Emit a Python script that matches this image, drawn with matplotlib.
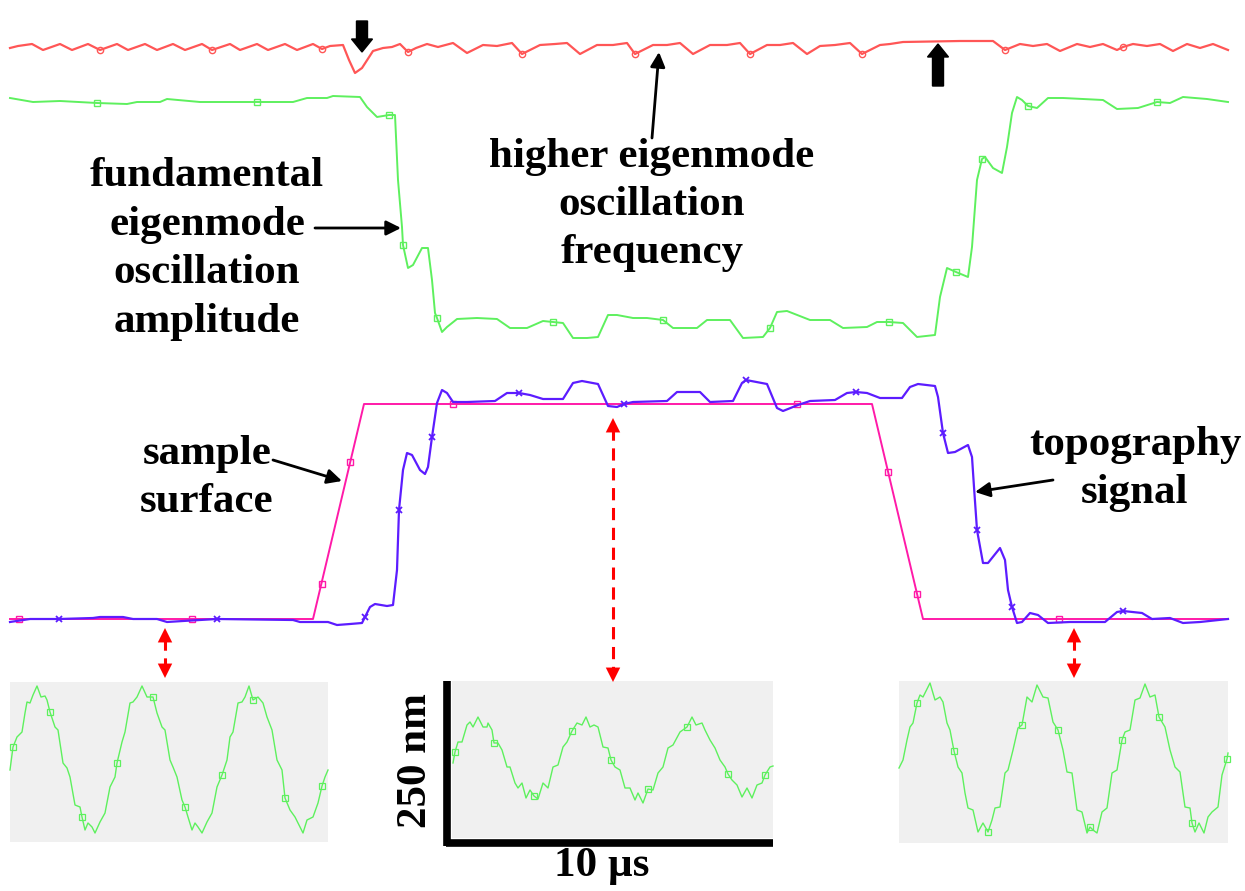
import matplotlib
matplotlib.use("Agg")
import matplotlib.pyplot as plt
from matplotlib.patches import Rectangle

# --- traces (x, y in image pixels, y downwards) ---

# higher eigenmode oscillation frequency (red, top)
freq_x = [10, 18, 32, 43, 60, 72, 88, 100, 117, 128, 145, 157, 173, 185, 202, 212, 230, 240,
          257, 268, 285, 297, 313, 322, 330, 343, 349, 355, 362, 373, 383, 392, 400, 408, 416,
          427, 438, 453, 467, 483, 497, 512, 522, 540, 555, 567, 580, 597, 613, 627, 635, 653,
          667, 680, 693, 710, 727, 740, 750, 767, 780, 793, 807, 820, 835, 850, 862, 880, 890,
          903, 960, 993, 1005, 1020, 1033, 1047, 1060, 1077, 1090, 1103, 1117, 1123, 1133,
          1147, 1160, 1173, 1187, 1200, 1213, 1228]
freq_y = [48, 46, 44, 50, 44, 50, 44, 50, 44, 50, 44, 50, 44, 50, 44, 50, 44, 50,
          44, 50, 44, 50, 44, 49, 46, 45, 60, 73, 68, 51, 48, 47, 44, 52, 48,
          44, 47, 43, 53, 45, 46, 43, 54, 45, 44, 43, 54, 45, 45, 43, 54, 45,
          45, 43, 54, 45, 45, 43, 54, 45, 45, 43, 54, 46, 45, 43, 54, 45, 44,
          42, 41, 41, 50, 44, 46, 44, 51, 44, 47, 44, 50, 47, 44,
          46, 44, 51, 44, 48, 44, 50]
freq_mk_x = [100, 212, 322, 408, 522, 635, 750, 862, 1005, 1123]
freq_mk_y = [50, 50, 49, 52, 54, 54, 54, 54, 50, 47]

# fundamental eigenmode oscillation amplitude (green)
amp_x = [10, 33, 60, 97, 127, 137, 160, 167, 200, 230, 257, 293, 307, 327, 333, 360, 367, 377,
         389, 395, 398, 402, 403, 408, 413, 422, 428, 432, 435, 437, 442, 447, 457, 477, 497,
         510, 527, 543, 553, 563, 573, 587, 598, 608, 617, 633, 647, 663, 673, 697, 707, 730,
         743, 763, 770, 777, 787, 810, 830, 843, 867, 877, 889, 903, 917, 935, 940, 947, 956,
         968, 972, 977, 982, 985, 993, 1002, 1007, 1012, 1017, 1022, 1028, 1037, 1048, 1063,
         1103, 1117, 1138, 1157, 1170, 1183, 1207, 1228]
amp_y = [98, 102, 101, 103, 104, 102, 102, 99, 102, 102, 102, 102, 98, 98, 96, 97, 107, 117,
         115, 115, 180, 227, 245, 268, 265, 248, 248, 280, 313, 318, 332, 327, 319, 318, 319,
         328, 328, 321, 322, 323, 338, 338, 337, 315, 315, 318, 318, 320, 328, 328, 320, 320,
         338, 337, 328, 312, 311, 320, 320, 328, 327, 322, 322, 323, 337, 335, 297, 268, 272,
         277, 247, 180, 159, 157, 168, 173, 147, 113, 97, 100, 106, 108, 98, 98,
         100, 109, 108, 102, 103, 97, 99, 102]
amp_mk_x = [97, 257, 389, 403, 437, 553, 663, 770, 889, 956, 982, 1028, 1157]
amp_mk_y = [103, 102, 115, 245, 318, 322, 320, 328, 322, 272, 159, 106, 102]

# sample surface (pink)
surf_x = [10, 313, 364, 872, 923, 1228]
surf_y = [619, 619, 404, 404, 619, 619]
surf_mk_x = [19, 192, 322, 350, 453, 797, 888, 917, 1059]
surf_mk_y = [619, 619, 584, 462, 404, 404, 472, 594, 619]

# topography signal (blue)
topo_x = [10, 30, 59, 93, 100, 123, 133, 157, 167, 183, 217, 293, 300, 328, 337, 350, 362, 365,
          370, 375, 387, 393, 397, 399, 403, 407, 412, 420, 425, 428, 432, 437, 442, 447, 453,
          467, 495, 507, 519, 530, 543, 563, 573, 582, 598, 608, 617, 624, 633, 667, 677, 700,
          710, 733, 742, 746, 767, 777, 783, 798, 810, 835, 847, 856, 867, 880, 902, 910, 918,
          935, 938, 943, 948, 955, 968, 972, 974, 977, 983, 988, 1000, 1005, 1008, 1012, 1017,
          1022, 1030, 1038, 1048, 1070, 1105, 1117, 1123, 1142, 1152, 1170, 1183, 1200, 1228]
topo_y = [622, 619, 619, 618, 617, 617, 619, 619, 622, 621, 619, 620, 622, 622, 625, 624, 623, 617,
          607, 604, 606, 605, 570, 510, 470, 453, 455, 470, 474, 467, 437, 403, 390, 393, 402,
          402, 401, 393, 393, 395, 399, 399, 383, 381, 384, 406, 407, 404, 402, 401, 392, 392,
          402, 401, 383, 380, 384, 408, 411, 405, 401, 400, 393, 392, 393, 398, 398, 387, 384,
          386, 397, 433, 453, 452, 445, 457, 487, 530, 563, 563, 548, 560, 590, 607, 623,
          622, 613, 615, 623, 622, 622, 612, 611, 613, 619, 618, 623, 622, 619]
topo_mk_x = [59, 217, 365, 399, 432, 519, 624, 746, 856, 943, 977, 1012, 1123]
topo_mk_y = [619, 619, 617, 510, 437, 393, 404, 380, 392, 433, 530, 607, 611]

# oscillation snapshots (green, in the three grey panels)
left_x = [10, 13, 17, 22, 25, 27, 30, 33, 37, 41, 45, 47, 50, 55, 58, 63, 67, 70, 75, 80, 82, 85,
          88, 92, 95, 100, 105, 110, 115, 117, 122, 125, 130, 133, 137, 142, 147, 152, 153, 157,
          162, 165, 170, 173, 177, 182, 185, 188, 192, 195, 198, 202, 207, 212, 217, 222, 227,
          230, 233, 238, 242, 245, 249, 253, 258, 263, 267, 272, 277, 282, 285, 290, 295, 300,
          303, 307, 313, 318, 322, 325, 328]
left_y = [770, 747, 737, 732, 713, 702, 703, 695, 686, 697, 696, 700, 712, 727, 730, 763, 768, 777,
          805, 807, 817, 830, 823, 827, 833, 822, 813, 787, 777, 763, 742, 732, 703, 702, 697, 686,
          697, 697, 697, 713, 727, 730, 760, 767, 777, 800, 807, 817, 830, 823, 827, 833, 822, 813,
          787, 775, 760, 737, 732, 703, 702, 697, 686, 700, 697, 703, 717, 730, 760, 770, 798,
          810, 817, 827, 833, 820, 817, 803, 786, 777, 770]
left_mk_x = [13, 50, 82, 117, 153, 185, 222, 253, 285, 322]
left_mk_y = [747, 712, 817, 763, 697, 807, 775, 700, 798, 786]

mid_x = [453, 455, 458, 462, 467, 470, 473, 478, 483, 487, 488, 492, 494, 498, 502, 507, 510, 515,
         518, 522, 526, 530, 534, 538, 543, 548, 553, 558, 563, 567, 572, 577, 582, 586, 590, 594,
         598, 603, 608, 611, 615, 620, 625, 630, 635, 638, 643, 648, 653, 658, 663, 668, 673, 680,
         687, 692, 696, 702, 705, 710, 715, 720, 725, 728, 732, 737, 742, 747, 752, 757, 762,
         765, 770, 773]
mid_y = [763, 752, 742, 742, 725, 722, 727, 717, 727, 727, 723, 730, 743, 743, 750, 767, 767, 783,
         788, 783, 798, 790, 796, 799, 783, 788, 767, 765, 747, 742, 731, 723, 725, 717, 727, 725,
         727, 747, 748, 760, 767, 770, 788, 788, 800, 793, 803, 789, 790, 773, 767, 748, 745, 732,
         727, 717, 725, 723, 730, 740, 748, 760, 767, 774, 780, 785, 797, 788, 798, 785, 783,
         775, 767, 766]
mid_mk_x = [455, 494, 534, 572, 611, 648, 687, 728, 765]
mid_mk_y = [752, 743, 796, 731, 760, 789, 727, 774, 775]

right_x = [899, 903, 907, 910, 913, 917, 920, 923, 930, 935, 940, 943, 947, 950, 954, 958, 962,
           965, 968, 973, 978, 983, 988, 992, 995, 1000, 1005, 1008, 1013, 1018, 1022, 1027, 1032,
           1037, 1043, 1048, 1053, 1058, 1063, 1067, 1072, 1077, 1082, 1087, 1090, 1093, 1097,
           1102, 1107, 1112, 1117, 1122, 1125, 1130, 1135, 1140, 1145, 1150, 1155, 1159, 1165,
           1170, 1175, 1180, 1185, 1190, 1192, 1195, 1199, 1204, 1208, 1212, 1218, 1222, 1227,
           1228]
right_y = [768, 760, 740, 727, 723, 703, 695, 697, 683, 700, 697, 702, 723, 730, 751, 767, 773,
           793, 808, 810, 832, 823, 832, 820, 808, 807, 773, 770, 750, 728, 725, 697, 702,
           685, 697, 698, 722, 730, 750, 772, 773, 810, 812, 833, 827, 830, 833,
           812, 808, 773, 770, 740, 732, 730, 700, 698, 684, 697, 695, 717, 727,
           750, 767, 772, 807, 808, 823, 832, 823, 833, 817, 812, 807, 775, 759,
           753]
right_mk_x = [917, 954, 988, 1022, 1058, 1090, 1122, 1159, 1192, 1227]
right_mk_y = [703, 751, 832, 725, 730, 827, 740, 717, 823, 759]

RED = "#ff5656"
GREEN = "#5ef05e"
PINK = "#ff1aa8"
BLUE = "#5c1cff"
BOX = "#f0f0f0"

plt.rcParams["font.family"] = ["Liberation Serif", "DejaVu Serif"]

fig = plt.figure(figsize=(12.45, 8.91), dpi=100)
ax = fig.add_axes([0, 0, 1, 1])
ax.set_xlim(0, 1245)
ax.set_ylim(891, 0)
ax.axis("off")

# grey panels
for (x0, y0, x1, y1) in [(10, 682, 328, 842), (452, 681, 773, 838), (899, 681, 1228, 843)]:
    ax.add_patch(Rectangle((x0, y0), x1 - x0, y1 - y0, facecolor=BOX, edgecolor="none", zorder=0))

# traces
ax.plot(freq_x, freq_y, color=RED, lw=1.6)
ax.plot(freq_mk_x, freq_mk_y, "o", ms=4.5, mfc="none", mec=RED, mew=1)
ax.plot(amp_x, amp_y, color=GREEN, lw=1.4)
ax.plot(amp_mk_x, amp_mk_y, "s", ms=5, mfc="none", mec=GREEN, mew=1)
ax.plot(surf_x, surf_y, color=PINK, lw=1.4)
ax.plot(surf_mk_x, surf_mk_y, "s", ms=5, mfc="none", mec=PINK, mew=1)
ax.plot(topo_x, topo_y, color=BLUE, lw=1.6)
ax.plot(topo_mk_x, topo_mk_y, "x", ms=5, mec=BLUE, mew=1.3)
for xs, ys, mx, my in [(left_x, left_y, left_mk_x, left_mk_y),
                       (mid_x, mid_y, mid_mk_x, mid_mk_y),
                       (right_x, right_y, right_mk_x, right_mk_y)]:
    ax.plot(xs, ys, color=GREEN, lw=1.0)
    ax.plot(mx, my, "s", ms=4, mfc="none", mec=GREEN, mew=0.9)

# scale bars of the middle panel
ax.plot([446.5, 446.5], [681, 846], color="black", lw=5.5, solid_capstyle="butt")
ax.plot([446, 773], [842.5, 842.5], color="black", lw=5.5, solid_capstyle="butt")
ax.text(416, 761, "250 nm", rotation=90, ha="center", va="center", fontsize=31, fontweight="bold")
ax.text(602, 866, "10 µs", ha="center", va="center", fontsize=31, fontweight="bold")

# block arrows
ax.arrow(362, 21, 0, 31, width=11, head_width=21, head_length=13,
         length_includes_head=True, color="black")
ax.arrow(938, 86, 0, -42, width=11, head_width=21, head_length=13,
         length_includes_head=True, color="black")

# labels with thin arrows
lab = dict(fontsize=31, fontweight="bold", ha="center", va="center", linespacing=1.36)
ax.text(207, 249, "fundamental\neigenmode\noscillation\namplitude", **lab)
ax.text(652, 205, "higher eigenmode\noscillation\nfrequency", **lab)
ax.text(207, 478, "sample\nsurface", **lab)
ax.text(1135, 469, "topography\nsignal", **lab)
thin = dict(arrowstyle="-|>", color="black", lw=2, mutation_scale=22, shrinkA=0, shrinkB=0)
ax.annotate("", xy=(659, 52), xytext=(652, 138), arrowprops=thin)
ax.annotate("", xy=(401, 228), xytext=(315, 228), arrowprops=thin)
ax.annotate("", xy=(342, 481), xytext=(273, 460), arrowprops=thin)
ax.annotate("", xy=(975, 492), xytext=(1053, 480), arrowprops=thin)

# red dashed double arrows
head = dict(arrowstyle="-|>", color="red", lw=0, mutation_scale=26, shrinkA=0, shrinkB=0)
for x, ytop, ybot in [(165, 628, 678), (613, 418, 682), (1074, 628, 678)]:
    ax.plot([x, x], [ytop + 10, ybot - 10], color="red", lw=2.2, ls=(0, (4, 2.5)))
    ax.annotate("", xy=(x, ytop), xytext=(x, ytop + 14), arrowprops=head)
    ax.annotate("", xy=(x, ybot), xytext=(x, ybot - 14), arrowprops=head)

fig.savefig("out.png", dpi=100)
